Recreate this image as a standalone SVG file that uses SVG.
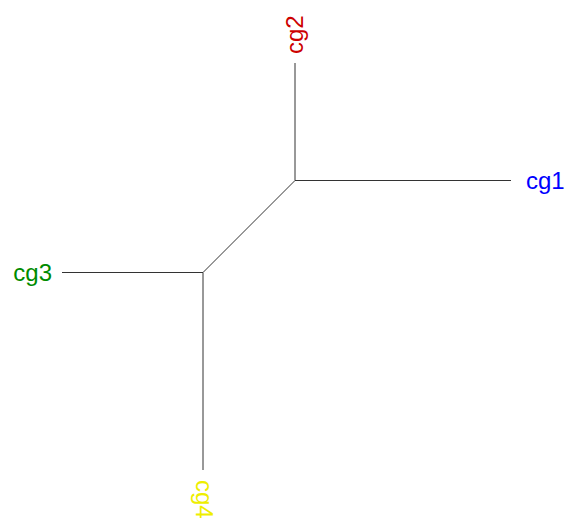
<svg xmlns="http://www.w3.org/2000/svg" width="569" height="524" viewBox="0 0 569 524">
<style>
.e{stroke:#333;stroke-width:1;fill:none}
.t{font-family:"Liberation Sans",Arial,sans-serif;font-size:24px}
</style>
<rect width="569" height="524" fill="#fff"/>
<g id="edges">
<line class="e" x1="295" y1="180.5" x2="295" y2="63"/>
<line class="e" x1="295" y1="180.5" x2="511" y2="180.5"/>
<line class="e" x1="295" y1="180.5" x2="203" y2="272.5"/>
<line class="e" x1="203" y1="272.5" x2="62" y2="272.5"/>
<line class="e" x1="203" y1="272.5" x2="203" y2="470"/>
</g>
<g id="cg1"><text class="t" x="526" y="189" fill="#0000FF">cg1</text></g>
<g id="cg2"><text class="t" transform="translate(303,54) rotate(-90)" fill="#CD0000">cg2</text></g>
<g id="cg3"><text class="t" x="52" y="281" text-anchor="end" fill="#008B00">cg3</text></g>
<g id="cg4"><text class="t" transform="translate(196,480) rotate(90)" fill="#EEEE00">cg4</text></g>
</svg>
